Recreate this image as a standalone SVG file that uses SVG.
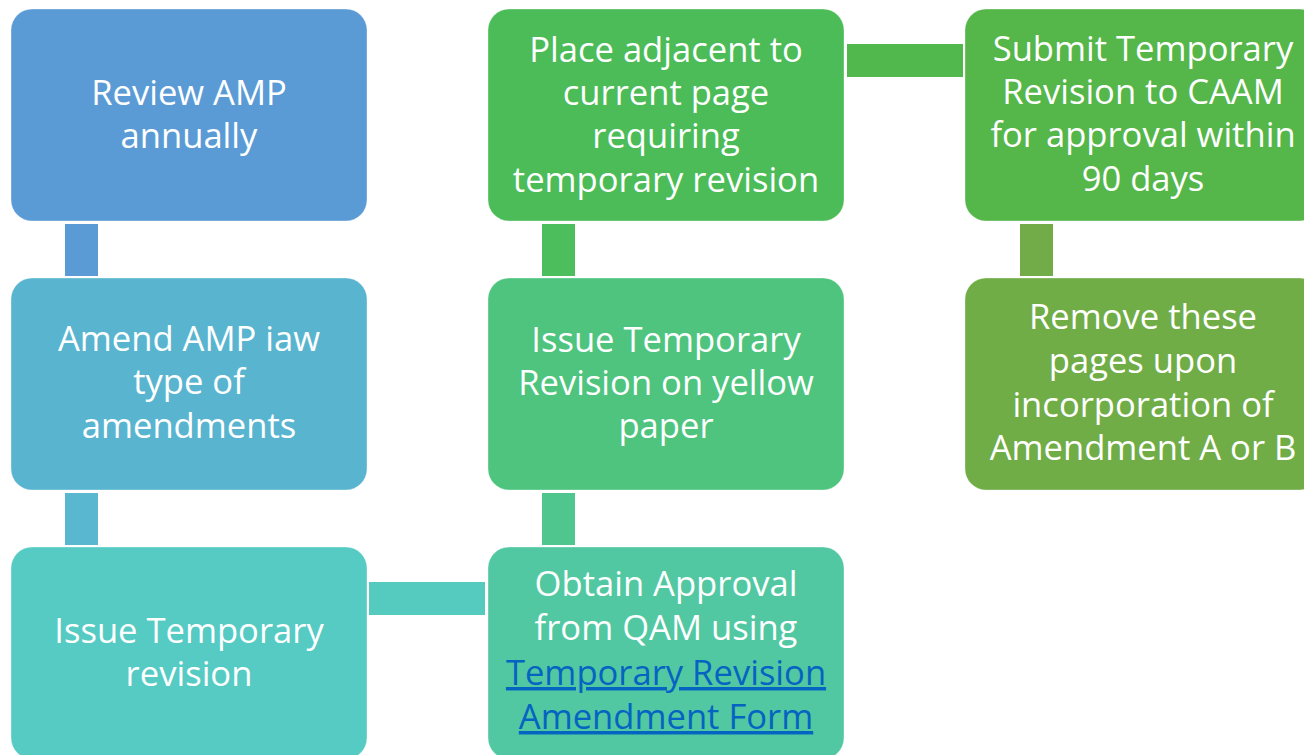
<svg xmlns="http://www.w3.org/2000/svg" width="1304" height="755" viewBox="0 0 1304 755">
<style>
.box{stroke:#ffffff;stroke-opacity:0.35;stroke-width:1}
.t{font-family:"Open Sans","Liberation Sans",sans-serif;font-size:34.6px;fill:#ffffff;text-anchor:middle}
.link{fill:#0563C1;text-decoration:underline}
</style>
<rect width="1304" height="755" fill="#ffffff"/>
<g id="connectors">
<rect x="65" y="224" width="33" height="52" fill="#5B9BD5"/>
<rect x="65" y="493" width="33" height="52" fill="#5AB7D0"/>
<rect x="369" y="582" width="116" height="33" fill="#55CBBF"/>
<rect x="542" y="493" width="33" height="52" fill="#50C68F"/>
<rect x="542" y="224" width="33" height="52" fill="#4CBF5C"/>
<rect x="847" y="44" width="116" height="33" fill="#50B84D"/>
<rect x="1020" y="224" width="33" height="52" fill="#72AC48"/>
</g>
<g id="n1">
<rect class="box" x="11" y="9" width="356" height="212" rx="21" fill="#5B9BD5"/>
<text class="t" x="189" y="105">Review AMP</text>
<text class="t" x="189" y="148">annually</text>
</g>
<g id="n2">
<rect class="box" x="11" y="278" width="356" height="212" rx="21" fill="#59B5CF"/>
<text class="t" x="189" y="351">Amend AMP iaw</text>
<text class="t" x="189" y="394">type of</text>
<text class="t" x="189" y="438">amendments</text>
</g>
<g id="n3">
<rect class="box" x="11" y="547" width="356" height="212" rx="21" fill="#55CBC4"/>
<text class="t" x="189" y="643">Issue Temporary</text>
<text class="t" x="189" y="686">revision</text>
</g>
<g id="n4">
<rect class="box" x="488" y="547" width="356" height="212" rx="21" fill="#51C8A2"/>
<text class="t" x="666" y="596">Obtain Approval</text>
<text class="t" x="666" y="640">from QAM using</text>
<text class="t link" x="666" y="685">Temporary Revision</text>
<text class="t link" x="666" y="729">Amendment Form</text>
</g>
<g id="n5">
<rect class="box" x="488" y="278" width="356" height="212" rx="21" fill="#4EC47E"/>
<text class="t" x="666" y="352">Issue Temporary</text>
<text class="t" x="666" y="395">Revision on yellow</text>
<text class="t" x="666" y="438">paper</text>
</g>
<g id="n6">
<rect class="box" x="488" y="9" width="356" height="212" rx="21" fill="#4BBC58"/>
<text class="t" x="666" y="62">Place adjacent to</text>
<text class="t" x="666" y="105">current page</text>
<text class="t" x="666" y="148">requiring</text>
<text class="t" x="666" y="192">temporary revision</text>
</g>
<g id="n7">
<rect class="box" x="965" y="9" width="356" height="212" rx="21" fill="#55B64A"/>
<text class="t" x="1143" y="61">Submit Temporary</text>
<text class="t" x="1143" y="104">Revision to CAAM</text>
<text class="t" x="1143" y="147">for approval within</text>
<text class="t" x="1143" y="191">90 days</text>
</g>
<g id="n8">
<rect class="box" x="965" y="278" width="356" height="212" rx="21" fill="#70AD47"/>
<text class="t" x="1143" y="329">Remove these</text>
<text class="t" x="1143" y="373">pages upon</text>
<text class="t" x="1143" y="417">incorporation of</text>
<text class="t" x="1143" y="460">Amendment A or B</text>
</g>
</svg>
